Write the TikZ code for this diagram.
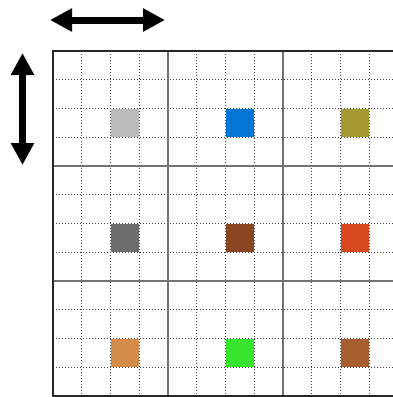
\documentclass[tikz,border=0pt]{standalone}
\usepackage{xcolor}
\usepackage{tikz}
\usetikzlibrary{arrows.meta}
\definecolor{swatchA}{HTML}{BBBBBB}
\definecolor{swatchB}{HTML}{0077D4}
\definecolor{swatchC}{HTML}{A89A32}
\definecolor{swatchD}{HTML}{6D6D6D}
\definecolor{swatchE}{HTML}{8A4523}
\definecolor{swatchF}{HTML}{D9491E}
\definecolor{swatchG}{HTML}{D48C4A}
\definecolor{swatchH}{HTML}{39E431}
\definecolor{swatchI}{HTML}{A75F2F}

\begin{document}
\begin{tikzpicture}[
          x=1pt, y=-1pt,
          subline/.style={draw=black!75, line width=0.9pt, dash pattern=on 1pt off 2pt},
          blockline/.style={draw=black!55, line width=1.6pt},
          frame/.style={draw=black!85, line width=2.2pt},
          dblarrow/.style={line width=7pt, {Triangle[length=22pt,width=22pt]}-{Triangle[length=22pt,width=22pt]}}
      ]
        \useasboundingbox (0,0) rectangle (393,397);
        \begin{scope}
          \clip (0,0) rectangle (393,397);
          % one coloured sub-cell per block
          \foreach \i/\j/\c in {0/0/swatchA,1/0/swatchB,2/0/swatchC,0/1/swatchD,1/1/swatchE,2/1/swatchF,0/2/swatchG,1/2/swatchH,2/2/swatchI} {
            \fill[\c] ({53+115*\i+57.5},{51+115*\j+57.5}) rectangle ++(28.75,28.75);
          }
          % fine grid
          \foreach \k in {1,...,11} {
            \draw[subline] ({53+28.75*\k},51) -- ++(0,345);
            \draw[subline] (53,{51+28.75*\k}) -- ++(345,0);
          }
          % block grid
          \foreach \k in {1,2} {
            \draw[blockline] ({53+115*\k},51) -- ++(0,345);
            \draw[blockline] (53,{51+115*\k}) -- ++(345,0);
          }
          \draw[frame] (53,51) rectangle (398,396);
        \end{scope}

        \coordinate (hleft) at (50,20);
        \coordinate (hright) at (165,20);
        \coordinate (vtop) at (22.5,53);
        \coordinate (vbot) at (22.5,165);
        \draw[dblarrow] (hleft) -- (hright);
        \draw[dblarrow] (vtop) -- (vbot);
      \end{tikzpicture}
\end{document}
